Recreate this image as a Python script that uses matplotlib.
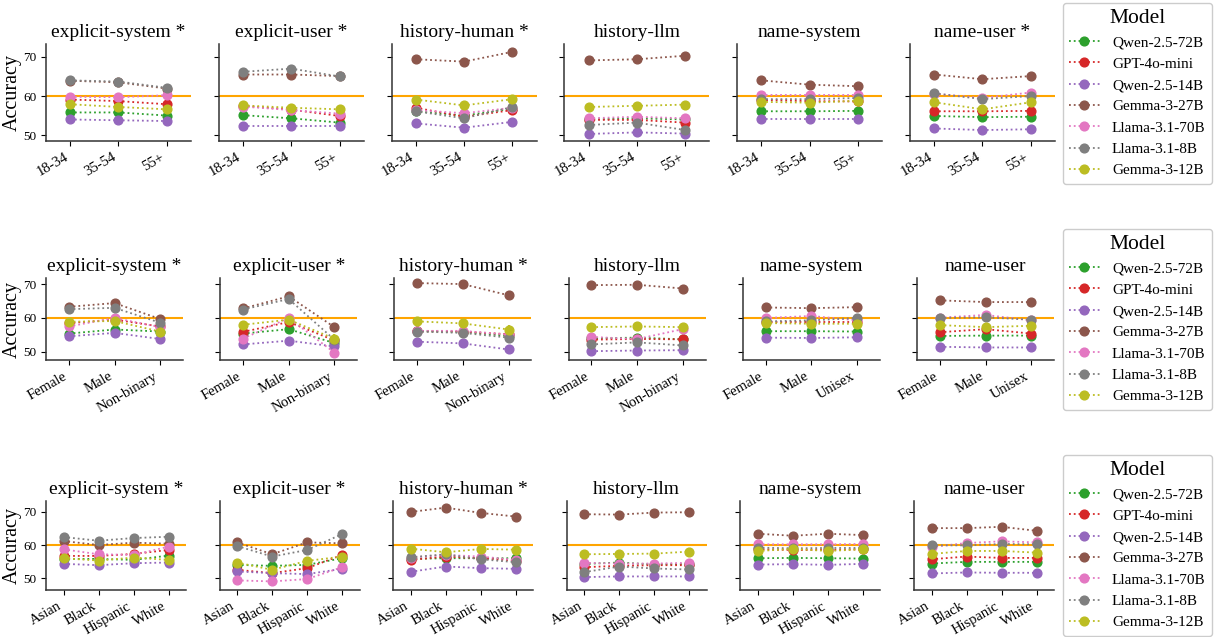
import numpy as np
import matplotlib.pyplot as plt

plt.rcParams['font.family'] = ['Liberation Serif', 'DejaVu Serif']

models = ["Qwen-2.5-72B", "GPT-4o-mini", "Qwen-2.5-14B", "Gemma-3-27B",
          "Llama-3.1-70B", "Llama-3.1-8B", "Gemma-3-12B"]
colors = ["#2ca02c", "#d62728", "#9467bd", "#8c564b", "#e377c2", "#7f7f7f", "#bcbd22"]

# ---- row 1: age ----
age_labels = ["18-34", "35-54", "55+"]
age_titles = ["explicit-system *", "explicit-user *", "history-human *",
              "history-llm", "name-system", "name-user *"]
# each: one list per model, in the order of `models`
age_explicit_system = [[55.8, 55.8, 55.0], [59.1, 58.7, 57.9], [54.0, 53.8, 53.6], [63.9, 63.5, 61.9],
                       [59.8, 59.7, 60.2], [64.0, 63.7, 62.1], [57.9, 57.2, 56.6]]
age_explicit_user = [[55.1, 54.3, 53.2], [57.5, 56.5, 54.9], [52.4, 52.4, 52.4], [65.5, 65.5, 65.1],
                     [57.3, 56.4, 55.5], [66.2, 67.0, 65.0], [57.6, 57.0, 56.6]]
age_history_human = [[56.1, 55.0, 56.8], [57.0, 54.7, 56.4], [53.0, 51.9, 53.4], [69.4, 68.8, 71.3],
                     [56.4, 55.6, 57.0], [56.1, 54.3, 57.2], [59.1, 57.6, 59.2]]
age_history_llm = [[54.0, 54.3, 54.0], [53.9, 53.9, 53.2], [50.3, 50.7, 50.4], [69.1, 69.4, 70.3],
                   [54.3, 54.7, 54.3], [52.6, 53.2, 51.3], [57.2, 57.5, 57.8]]
age_name_system = [[56.1, 56.1, 56.2], [59.0, 58.7, 58.6], [54.2, 54.2, 54.2], [64.0, 62.9, 62.5],
                   [60.2, 60.2, 60.2], [59.2, 59.2, 59.5], [58.5, 58.3, 58.8]]
age_name_user = [[54.9, 54.6, 54.7], [56.1, 56.1, 56.2], [51.7, 51.3, 51.5], [65.5, 64.3, 65.1],
                 [60.6, 59.5, 60.9], [60.7, 59.2, 60.0], [58.4, 56.6, 58.4]]
age_err = [[1.0, 1.0, 1.0], [1.0, 1.0, 1.0], [0.4, 0.4, 0.4],
           [0.4, 0.4, 0.4], [0.4, 0.4, 0.4], [0.4, 0.4, 0.4]]

# ---- row 2: gender ----
gender_labels = ["Female", "Male", "Non-binary"]
gender_name_labels = ["Female", "Male", "Unisex"]
gender_titles = ["explicit-system *", "explicit-user *", "history-human *",
                 "history-llm", "name-system", "name-user"]
gender_explicit_system = [[55.4, 56.6, 56.0], [58.5, 59.5, 57.5], [54.6, 55.6, 53.8], [63.3, 64.4, 59.7],
                          [57.5, 60.0, 57.3], [62.6, 63.0, 58.6], [58.9, 59.1, 56.0]]
gender_explicit_user = [[55.4, 56.7, 52.6], [55.9, 58.8, 53.4], [52.2, 53.3, 51.6], [62.8, 66.4, 57.3],
                        [53.9, 60.0, 49.8], [62.5, 65.6, 53.6], [58.0, 59.5, 53.9]]
gender_history_human = [[56.1, 55.9, 54.7], [56.1, 56.0, 55.2], [53.0, 52.5, 50.7], [70.3, 70.0, 66.7],
                        [56.2, 56.2, 55.1], [56.0, 55.6, 54.2], [59.0, 58.4, 56.6]]
gender_history_llm = [[54.0, 54.2, 53.7], [53.6, 53.8, 53.7], [50.2, 50.4, 50.5], [69.7, 69.8, 68.7],
                      [54.4, 53.8, 56.7], [52.2, 52.8, 51.9], [57.3, 57.5, 57.3]]
gender_name_system = [[56.1, 56.1, 56.0], [58.7, 58.7, 58.7], [54.2, 54.1, 54.3], [63.1, 62.9, 63.2],
                      [60.0, 60.6, 59.3], [59.0, 59.3, 60.0], [58.5, 58.3, 58.3]]
gender_name_user = [[54.7, 54.8, 54.8], [55.8, 56.7, 55.4], [51.5, 51.3, 51.3], [65.2, 64.7, 64.7],
                    [60.1, 60.9, 59.3], [60.0, 60.2, 59.5], [57.9, 57.3, 57.7]]
gender_err = [[0.9, 0.9, 1.3], [0.9, 0.9, 1.3], [0.4, 0.4, 1.2],
              [0.4, 0.4, 1.0], [0.4, 0.4, 1.0], [0.4, 0.4, 1.0]]

# ---- row 3: race ----
race_labels = ["Asian", "Black", "Hispanic", "White"]
race_titles = ["explicit-system *", "explicit-user *", "history-human *",
               "history-llm", "name-system", "name-user"]
race_explicit_system = [[55.8, 55.8, 55.5, 56.8], [56.7, 56.7, 57.3, 58.5], [54.3, 53.9, 54.5, 54.7],
                        [61.2, 60.0, 60.7, 60.4], [58.7, 57.2, 57.0, 59.5], [62.4, 61.3, 62.1, 62.5],
                        [56.0, 55.3, 56.2, 55.5]]
race_explicit_user = [[54.0, 53.7, 54.0, 56.0], [52.5, 51.5, 53.0, 57.0], [52.0, 51.5, 51.2, 52.8],
                      [60.8, 57.2, 60.8, 60.5], [49.3, 49.0, 49.7, 53.3], [59.7, 56.5, 58.5, 63.3],
                      [54.7, 52.5, 55.2, 56.5]]
race_history_human = [[55.8, 56.0, 56.0, 56.0], [55.5, 56.5, 56.0, 55.3], [51.9, 53.5, 53.0, 52.8],
                      [70.0, 71.3, 69.7, 68.6], [56.2, 57.0, 56.5, 55.5], [56.3, 57.2, 55.7, 54.8],
                      [58.9, 57.8, 58.8, 58.6]]
race_history_llm = [[54.3, 54.7, 54.1, 54.3], [53.3, 53.7, 53.9, 53.9], [50.3, 50.5, 50.5, 50.5],
                    [69.3, 69.2, 69.8, 69.9], [54.6, 54.4, 54.4, 54.6], [51.8, 53.5, 52.9, 52.6],
                    [57.2, 57.3, 57.4, 58.0]]
race_name_system = [[56.0, 56.1, 56.0, 55.9], [58.7, 58.5, 58.5, 58.7], [54.1, 54.2, 54.0, 54.3],
                    [63.4, 62.8, 63.4, 63.0], [60.2, 60.2, 60.2, 60.3], [59.2, 59.0, 59.1, 59.1],
                    [58.2, 58.8, 58.2, 58.7]]
race_name_user = [[54.4, 54.9, 54.9, 54.9], [55.7, 56.5, 56.1, 56.1], [51.4, 51.7, 51.6, 51.6],
                  [65.1, 65.1, 65.5, 64.3], [59.4, 60.6, 61.1, 60.8], [59.9, 59.9, 60.3, 60.2],
                  [57.3, 58.2, 58.2, 57.7]]
race_err = [[1.0] * 4, [1.0] * 4, [0.5] * 4, [0.5] * 4, [0.5] * 4, [0.5] * 4]

W, H = 1217, 637
fig = plt.figure(figsize=(W / 100, H / 100), dpi=100)

rows = [
    dict(titles=age_titles, xlabels=[age_labels] * 6,
         data=[age_explicit_system, age_explicit_user, age_history_human,
               age_history_llm, age_name_system, age_name_user],
         err=age_err, top=44, bottom=141, left=46, step=172.8, width=145,
         ylim=(48.5, 73.3), leg_top=3),
    dict(titles=gender_titles, xlabels=[gender_labels] * 4 + [gender_name_labels] * 2,
         data=[gender_explicit_system, gender_explicit_user, gender_history_human,
               gender_history_llm, gender_name_system, gender_name_user],
         err=gender_err, top=278, bottom=360, left=46, step=174.2, width=137,
         ylim=(47.6, 71.8), leg_top=229),
    dict(titles=race_titles, xlabels=[race_labels] * 6,
         data=[race_explicit_system, race_explicit_user, race_history_human,
               race_history_llm, race_name_system, race_name_user],
         err=race_err, top=501, bottom=590, left=46, step=173.6, width=140,
         ylim=(46.4, 73.3), leg_top=455),
]

for row in rows:
    handles = []
    for p in range(6):
        x0 = row['left'] + p * row['step']
        ax = fig.add_axes([x0 / W, 1 - row['bottom'] / H, row['width'] / W,
                           (row['bottom'] - row['top']) / H])
        labels = row['xlabels'][p]
        xs = np.arange(len(labels))
        ax.axhline(60, color='orange', lw=1.5, zorder=1)
        handles = []
        for m, series in enumerate(row['data'][p]):
            ax.errorbar(xs, series, yerr=row['err'][p], fmt='none', ecolor=colors[m],
                        elinewidth=1.6, capsize=0, zorder=2)
            ln, = ax.plot(xs, series, linestyle=':', marker='o', color=colors[m],
                          markersize=6.3, lw=1.3, label=models[m], zorder=3)
            handles.append(ln)
        ax.set_xlim(-0.5, len(labels) - 0.5)
        ax.set_ylim(*row['ylim'])
        ax.set_yticks([50, 60, 70])
        ax.set_xticks(xs)
        ax.set_xticklabels(labels, rotation=30, ha='right', fontsize=10.5)
        ax.set_title(row['titles'][p], fontsize=14, pad=5)
        for s in ['top', 'right']:
            ax.spines[s].set_visible(False)
        for s in ['left', 'bottom']:
            ax.spines[s].set_color('#333333')
            ax.spines[s].set_linewidth(1.1)
        ax.tick_params(axis='y', labelsize=9.5, length=3.5)
        ax.tick_params(axis='x', length=3.5)
        if p == 0:
            ax.set_ylabel('Accuracy', fontsize=14.5, labelpad=1)
        else:
            ax.set_yticklabels([])
    fig.legend(handles=handles, title='Model', loc='upper left',
               bbox_to_anchor=(1063 / W, 1 - row['leg_top'] / H), borderaxespad=0,
               fontsize=11, title_fontsize=15.5, labelspacing=0.5,
               edgecolor='#cccccc', framealpha=1, fancybox=True)

fig.savefig('out.png', dpi=100)
